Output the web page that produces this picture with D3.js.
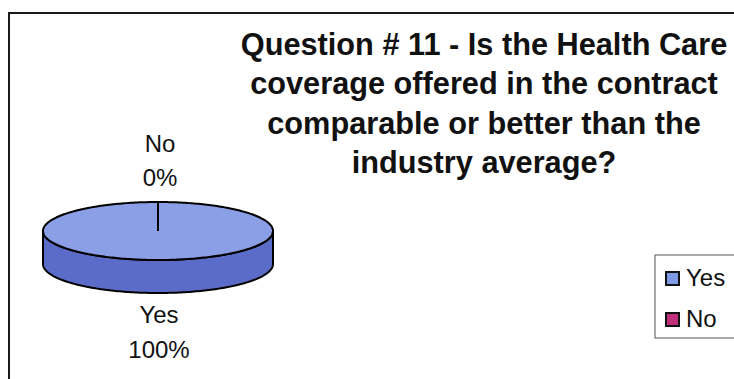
<!DOCTYPE html>
<html>
<head>
<meta charset="utf-8">
<script src="https://cdn.jsdelivr.net/npm/d3@7"></script>
<style>
html,body{margin:0;padding:0;background:#fff;}
svg{display:block;}
</style>
</head>
<body>
<svg id="chart" width="734" height="379"></svg>
<script>
// ---- data ----
const categories = ["Yes", "No"];
const values = [100, 0];
const percentLabels = ["100%", "0%"];
const titleLines = [
  "Question # 11 - Is the Health Care",
  "coverage offered in the contract",
  "comparable or better than the",
  "industry average?"
];

const topColors = ["#8b9fe7", "#c0307a"];
const sideColors = ["#5a6cc8", "#8a1f56"];
const legendColors = ["#7f9be8", "#c0307a"];

const svg = d3.select("#chart");
const font = "'Liberation Sans', Arial, sans-serif";

// frame
svg.append("rect").attr("x", 9).attr("y", 13).attr("width", 760).attr("height", 400)
  .attr("fill", "#fff").attr("stroke", "#1a1a1a").attr("stroke-width", 2);

// title
const title = svg.append("text").attr("font-family", font).attr("font-weight", "bold")
  .attr("font-size", 32).attr("fill", "#111").attr("text-anchor", "middle")
  .attr("transform", "translate(484,0) scale(0.96,1)");
const titleY = d3.scalePoint().domain(d3.range(titleLines.length)).range([55, 173]);
titleLines.forEach((t, i) => {
  title.append("tspan").attr("x", 0).attr("y", titleY(i)).text(t);
});

// 3D pie
const cx = 158, cy = 231, rx = 115, ry = 29, depth = 33;
const pie = d3.pie().sort(null).value(d => d)(values);
const ptTop = a => [cx + rx * Math.sin(a), cy - ry * Math.cos(a)];
const ptBot = a => [cx + rx * Math.sin(a), cy - ry * Math.cos(a) + depth];
function arcPts(a0, a1, f) {
  const n = Math.max(2, Math.ceil(Math.abs(a1 - a0) / 0.02));
  return d3.range(n + 1).map(i => f(a0 + (a1 - a0) * i / n));
}
const line = d3.line();
const g = svg.append("g");

// sides (front half: angles between PI/2 and 3PI/2)
pie.forEach((s, i) => {
  const a0 = Math.max(s.startAngle, Math.PI / 2);
  const a1 = Math.min(s.endAngle, 3 * Math.PI / 2);
  if (a1 <= a0) return;
  const pts = arcPts(a0, a1, ptTop).concat(arcPts(a1, a0, ptBot));
  g.append("path").attr("d", line(pts) + "Z")
    .attr("fill", sideColors[i]).attr("stroke", "#000").attr("stroke-width", 2)
    .attr("stroke-linejoin", "round");
});

// tops
pie.forEach((s, i) => {
  if (s.endAngle - s.startAngle <= 0) return;
  const pts = arcPts(s.startAngle, s.endAngle, ptTop);
  const full = s.endAngle - s.startAngle >= 2 * Math.PI - 1e-6;
  const d = full ? line(pts) + "Z" : line([[cx, cy]].concat(pts)) + "Z";
  g.append("path").attr("d", d)
    .attr("fill", topColors[i]).attr("stroke", "#000").attr("stroke-width", 2)
    .attr("stroke-linejoin", "round");
});

// radial boundary lines
const boundaries = Array.from(new Set(pie.map(s => (s.startAngle % (2 * Math.PI)).toFixed(6))));
boundaries.forEach(b => {
  const p = ptTop(+b);
  g.append("line").attr("x1", cx).attr("y1", cy).attr("x2", p[0]).attr("y2", p[1])
    .attr("stroke", "#000").attr("stroke-width", 2);
});

// data labels
const labelPos = [
  { x: 159, y1: 323, y2: 358 },
  { x: 160, y1: 152, y2: 186 }
];
categories.forEach((c, i) => {
  const t = svg.append("text").attr("font-family", font).attr("font-size", 24)
    .attr("fill", "#111").attr("text-anchor", "middle");
  t.append("tspan").attr("x", labelPos[i].x).attr("y", labelPos[i].y1).text(c);
  t.append("tspan").attr("x", labelPos[i].x).attr("y", labelPos[i].y2).text(percentLabels[i]);
});

// legend
const lg = svg.append("g");
lg.append("rect").attr("x", 655).attr("y", 255).attr("width", 120).attr("height", 83)
  .attr("fill", "#fff").attr("stroke", "#555").attr("stroke-width", 1);
const ly = d3.scalePoint().domain(categories).range([272, 313]);
categories.forEach((c, i) => {
  lg.append("rect").attr("x", 666).attr("y", ly(c)).attr("width", 13).attr("height", 13)
    .attr("fill", legendColors[i]).attr("stroke", "#111").attr("stroke-width", 2);
  lg.append("text").attr("x", 686).attr("y", ly(c) + 14).attr("font-family", font)
    .attr("font-size", 24).attr("fill", "#111").text(c);
});
</script>
</body>
</html>
